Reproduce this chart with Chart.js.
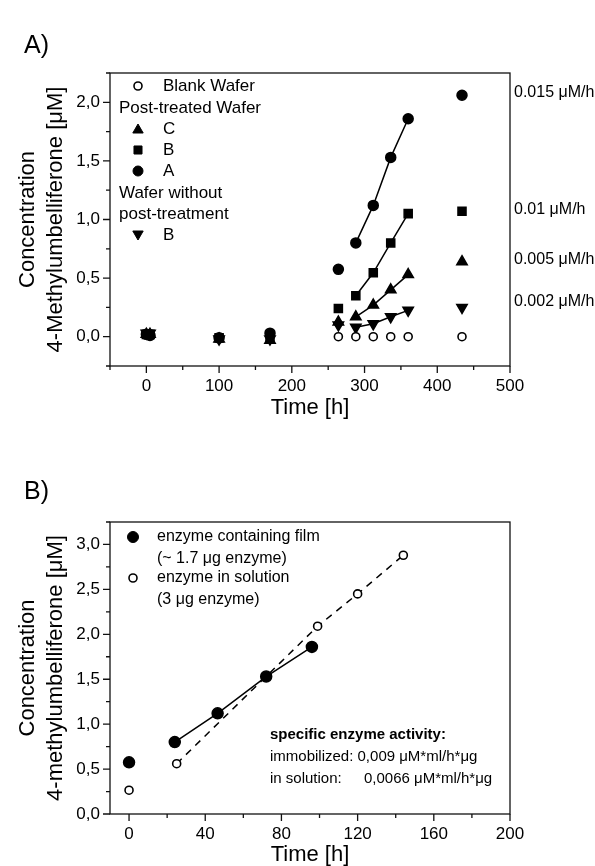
<!DOCTYPE html>
<html>
<head>
<meta charset="utf-8">
<script src="https://cdn.jsdelivr.net/npm/chart.js@4.4.0/dist/chart.umd.min.js"></script>
<style>
  body{margin:0;background:#fff;}
  #wrap{position:relative;width:595px;height:866px;}
  canvas{position:absolute;left:0;}
</style>
</head>
<body>
<div id="wrap">
  <canvas id="chartA" width="595" height="433" style="top:0"></canvas>
  <canvas id="chartB" width="595" height="433" style="top:433px"></canvas>
</div>
<script>
// ---- panel A data ----
const timeA=[0,5,100,170,264,288,312,336,360,434]
const waferA=[0.02,0.01,-0.01,0.03,0.575,0.80,1.12,1.53,1.86,2.06]
const waferB=[0.02,0.02,-0.01,0.0,0.24,0.35,0.545,0.80,1.05,1.07]
const waferC=[0.02,0.02,-0.02,-0.03,0.125,0.17,0.27,0.40,0.53,0.64]
const noPostB=[0.03,0.03,-0.02,-0.02,0.10,0.08,0.11,0.17,0.225,0.25]
const timeBlank=[264,288,312,336,360,434]
const blankWafer=[0,0,0,0,0,0]
const fitFirstA=5, fitLastA=8   // points joined by the rate lines
const xTicksA=[0,100,200,300,400,500]
const xMinorA=[-50,50,150,250,350,450]
const yTicksA=[0,0.5,1,1.5,2]
const yMinorA=[-0.25,0.25,0.75,1.25,1.75,2.25]
const ratesA=['0.015 \u03bcM/h','0.01 \u03bcM/h','0.005 \u03bcM/h','0.002 \u03bcM/h']

// ---- panel B data ----
const timeFilm=[0,24,46.5,72,96]
const film=[0.575,0.80,1.12,1.53,1.86]
const timeSolution=[0,25,99,120,144]
const solution=[0.265,0.56,2.09,2.45,2.88]
const xTicksB=[0,40,80,120,160,200]
const xMinorB=[20,60,100,140,180]
const yTicksB=[0,0.5,1,1.5,2,2.5,3]
const yMinorB=[0.25,0.75,1.25,1.75,2.25,2.75,3.25]

const FONT='"Liberation Sans", Arial, sans-serif'

const toPoints=(xs,ys)=>xs.map((v,i)=>({x:v,y:ys[i]}))
const comma=v=>v.toFixed(1).replace('.',',')

const inRange=(first,last)=>ctx=>(ctx.p0DataIndex>=first && ctx.p1DataIndex<=last) ? '#000' : 'rgba(0,0,0,0)'

const drawSym=(ctx,style,x,y,r,rot,open)=>{
  ctx.fillStyle=open ? '#fff' : '#000'
  ctx.strokeStyle='#000'
  ctx.lineWidth=open ? 1.6 : 1
  Chart.helpers.drawPoint(ctx,{pointStyle:style,radius:r,rotation:rot||0,borderWidth:open?1.6:1},x,y)
}

// frame, ticks, titles and texts
const extrasPlugin={
  id:'extras',
  afterDraw(chart,args,o){
    const {ctx,chartArea:a,scales:{x,y}}=chart
    ctx.save()
    ctx.strokeStyle='#111'
    ctx.lineWidth=1.3
    ctx.strokeRect(a.left,a.top,a.right-a.left,a.bottom-a.top)
    ctx.beginPath()
    o.xMajor.forEach(v=>{let p=x.getPixelForValue(v);ctx.moveTo(p,a.bottom);ctx.lineTo(p,a.bottom+7)})
    o.xMinor.forEach(v=>{let p=x.getPixelForValue(v);ctx.moveTo(p,a.bottom);ctx.lineTo(p,a.bottom+4)})
    o.yMajor.forEach(v=>{let p=y.getPixelForValue(v);ctx.moveTo(a.left,p);ctx.lineTo(a.left-7,p)})
    o.yMinor.forEach(v=>{let p=y.getPixelForValue(v);ctx.moveTo(a.left,p);ctx.lineTo(a.left-4,p)})
    ctx.stroke()

    ctx.fillStyle='#000'
    ctx.textBaseline='middle'
    // axis titles
    ctx.font='22px '+FONT
    ctx.textAlign='center'
    ctx.fillText('Time [h]',(a.left+a.right)/2,a.bottom+o.xTitleGap)
    const cy=(a.top+a.bottom)/2
    o.yTitle.forEach((t,i)=>{
      ctx.save()
      ctx.translate(28+i*28,cy)
      ctx.rotate(-Math.PI/2)
      ctx.fillText(t,0,0)
      ctx.restore()
    })
    // panel label
    ctx.font='25px '+FONT
    ctx.textAlign='left'
    ctx.fillText(o.panel,24,o.panelY)
    // free texts
    o.texts.forEach(t=>{
      ctx.font=t.font
      ctx.textAlign='left'
      ctx.fillText(t.text,t.x,t.y)
    })
    o.symbols.forEach(s=>drawSym(ctx,s.style,s.x,s.y,s.r,s.rot,s.open))
    ctx.restore()
  }
}

const axisX=(min,max,ticks,h)=>({
  type:'linear',min:min,max:max,
  grid:{display:false,drawTicks:true,tickLength:7},
  border:{display:false},
  ticks:{color:'#000',font:{family:FONT,size:17},padding:3,maxRotation:0,autoSkip:false},
  afterBuildTicks:s=>{s.ticks=ticks.map(v=>({value:v}))},
  afterFit:s=>{s.height=h}
})
const axisY=(min,max,ticks)=>({
  type:'linear',min:min,max:max,
  grid:{display:false,drawTicks:true,tickLength:7},
  border:{display:false},
  ticks:{color:'#000',font:{family:FONT,size:17},padding:3,callback:v=>comma(v),autoSkip:false},
  afterBuildTicks:s=>{s.ticks=ticks.map(v=>({value:v}))},
  afterFit:s=>{s.width=110}
})

// ---------- chart A ----------
const lf17='17px '+FONT
const lf16='16px '+FONT
new Chart(document.getElementById('chartA'),{
  type:'scatter',
  data:{datasets:[
    {label:'Blank Wafer',data:toPoints(timeBlank,blankWafer),pointStyle:'circle',pointRadius:4,
      pointBackgroundColor:'#fff',pointBorderColor:'#000',pointBorderWidth:1.6,showLine:false},
    {label:'C',data:toPoints(timeA,waferC),pointStyle:'triangle',pointRadius:6,
      pointBackgroundColor:'#000',pointBorderColor:'#000',showLine:true,borderWidth:1.5,
      segment:{borderColor:inRange(fitFirstA,fitLastA)}},
    {label:'B',data:toPoints(timeA,waferB),pointStyle:'rect',pointRadius:5.7,
      pointBackgroundColor:'#000',pointBorderColor:'#000',showLine:true,borderWidth:1.5,
      segment:{borderColor:inRange(fitFirstA,fitLastA)}},
    {label:'A',data:toPoints(timeA,waferA),pointStyle:'circle',pointRadius:5,
      pointBackgroundColor:'#000',pointBorderColor:'#000',showLine:true,borderWidth:1.5,
      segment:{borderColor:inRange(fitFirstA,fitLastA)}},
    {label:'B without post-treatment',data:toPoints(timeA,noPostB),pointStyle:'triangle',pointRotation:180,pointRadius:6,
      pointBackgroundColor:'#000',pointBorderColor:'#000',showLine:true,borderWidth:1.5,
      segment:{borderColor:inRange(fitFirstA,fitLastA)}}
  ]},
  options:{
    responsive:false,animation:false,devicePixelRatio:1,
    layout:{padding:{left:0,right:85,top:73,bottom:0}},
    scales:{x:axisX(-50,500,xTicksA,67),y:axisY(-0.25,2.25,yTicksA)},
    plugins:{
      legend:{display:false},tooltip:{enabled:false},
      extras:{
        panel:'A)',panelY:46,xTitleGap:42,
        xMajor:xTicksA,xMinor:xMinorA,yMajor:yTicksA,yMinor:yMinorA,
        yTitle:['Concentration','4-Methylumbelliferone [\u03bcM]'],
        texts:[
          {text:'Blank Wafer',x:163,y:86,font:lf17},
          {text:'Post-treated Wafer',x:119,y:108,font:lf17},
          {text:'C',x:163,y:129,font:lf17},
          {text:'B',x:163,y:150,font:lf17},
          {text:'A',x:163,y:171,font:lf17},
          {text:'Wafer without',x:119,y:193,font:lf17},
          {text:'post-treatment',x:119,y:214,font:lf17},
          {text:'B',x:163,y:235,font:lf17},
          {text:ratesA[0],x:514,y:93,font:lf16},
          {text:ratesA[1],x:514,y:210,font:lf16},
          {text:ratesA[2],x:514,y:260,font:lf16},
          {text:ratesA[3],x:514,y:302,font:lf16}
        ],
        symbols:[
          {style:'circle',x:138,y:86,r:4,open:true},
          {style:'triangle',x:138,y:130,r:6},
          {style:'rect',x:138,y:150,r:5.7},
          {style:'circle',x:138,y:171,r:5},
          {style:'triangle',x:138,y:234,r:6,rot:180}
        ]
      }
    }
  },
  plugins:[extrasPlugin]
})

// ---------- chart B ----------
const lf15='15px '+FONT
new Chart(document.getElementById('chartB'),{
  type:'scatter',
  data:{datasets:[
    {label:'enzyme in solution',data:toPoints(timeSolution,solution),pointStyle:'circle',pointRadius:4,
      pointBackgroundColor:'#fff',pointBorderColor:'#000',pointBorderWidth:1.6,
      showLine:true,borderWidth:1.5,borderDash:[7,6],
      segment:{borderColor:inRange(1,timeSolution.length-1)}},
    {label:'enzyme containing film',data:toPoints(timeFilm,film),pointStyle:'circle',pointRadius:5.5,
      pointBackgroundColor:'#000',pointBorderColor:'#000',
      showLine:true,borderWidth:1.5,
      segment:{borderColor:inRange(1,timeFilm.length-1)}}
  ]},
  options:{
    responsive:false,animation:false,devicePixelRatio:1,
    layout:{padding:{left:0,right:85,top:89,bottom:0}},
    scales:{x:axisX(-10,200,xTicksB,52),y:axisY(0,3.25,yTicksB)},
    plugins:{
      legend:{display:false},tooltip:{enabled:false},
      extras:{
        panel:'B)',panelY:59,xTitleGap:41,
        xMajor:xTicksB,xMinor:xMinorB,yMajor:yTicksB,yMinor:yMinorB,
        yTitle:['Concentration','4-methylumbelliferone [\u03bcM]'],
        texts:[
          {text:'enzyme containing film',x:157,y:104,font:lf16},
          {text:'(~ 1.7 \u03bcg enzyme)',x:157,y:126,font:lf16},
          {text:'enzyme in solution',x:157,y:145,font:lf16},
          {text:'(3 \u03bcg enzyme)',x:157,y:167,font:lf16},
          {text:'specific enzyme activity:',x:270,y:302,font:'bold '+lf15},
          {text:'immobilized: 0,009 \u03bcM*ml/h*\u03bcg',x:270,y:324,font:lf15},
          {text:'in solution:',x:270,y:346,font:lf15},
          {text:'0,0066 \u03bcM*ml/h*\u03bcg',x:364,y:346,font:lf15}
        ],
        symbols:[
          {style:'circle',x:133,y:104,r:5.5},
          {style:'circle',x:133,y:145,r:4,open:true}
        ]
      }
    }
  },
  plugins:[extrasPlugin]
})
</script>
</body>
</html>
